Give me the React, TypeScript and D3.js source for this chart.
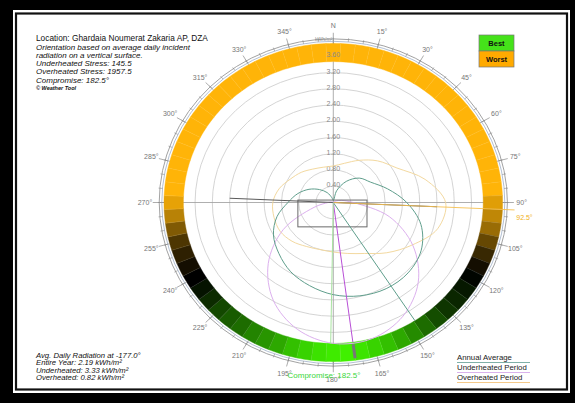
import React from 'react';
import * as d3 from 'd3';

const W = 575;
const H = 403;

// ---- data ----
const curveBearings = [0, 15, 30, 45, 60, 75, 90, 105, 120, 135, 150, 165, 180, 195, 210, 225, 240, 255, 270, 285, 300, 315, 330, 345];
const annualAverage = [0.05, 0.3, 0.6, 0.85, 1.0, 1.3, 1.7, 2.1, 2.35, 2.45, 2.45, 2.38, 2.27, 2.12, 1.97, 1.78, 1.6, 1.35, 1.05, 0.85, 0.65, 0.45, 0.28, 0.12];
const underheatedPeriod = [0, 0, 0, 0.02, 0.08, 0.2, 0.46, 1.34, 2.13, 2.78, 3.23, 3.47, 3.47, 3.23, 2.78, 2.13, 1.34, 0.46, 0.12, 0.05, 0.02, 0, 0, 0];
const overheatedPeriod = [0.9, 1.0, 1.2, 1.45, 1.7, 2.2, 2.6, 2.5, 2.1, 1.75, 1.45, 1.3, 1.22, 1.2, 1.25, 1.35, 1.42, 1.42, 1.4, 1.3, 1.15, 1.05, 0.95, 0.9];

// band score per 5 degree cell: -1 worst (orange) .. 0 black .. +1 best (green)
const bandBearings = d3.range(0, 360, 5);
const bandScores = [
  -1, -1, -1, -1, -1, -1, -1, -1, -1, -1, -1, -1, -1, -1, -1, -1, -1, -1,
  -0.88, -0.75, -0.6, -0.4, -0.22, -0.08, 0.02, 0.1, 0.16, 0.22, 0.32, 0.45,
  0.58, 0.7, 0.8, 0.88, 0.95, 1, 0.98, 0.94, 0.88, 0.8, 0.7, 0.62,
  0.55, 0.45, 0.38, 0.3, 0.18, 0.08, 0, -0.08, -0.18, -0.3, -0.5, -0.72,
  -0.9, -1, -1, -1, -1, -1, -1, -1, -1, -1, -1, -1, -1, -1, -1, -1, -1, -1,
];

const ringValues = [0.4, 0.8, 1.2, 1.6, 2.0, 2.4, 2.8, 3.2, 3.6];
const ringLabels = ['0.40', '0.80', '1.20', '1.60', '2.00', '2.40', '2.80', '3.20', '3.60'];
const compassBearings = d3.range(0, 360, 15);
const compassLabels = ['N', '15°', '30°', '45°', '60°', '75°', '90°', '105°', '120°', '135°', '150°', '165°', '180°', '195°', '210°', '225°', '240°', '255°', '270°', '285°', '300°', '315°', '330°', '345°'];

const bestOrientations = [
  { name: 'annual', bearing: 147, length: 3.47, color: '#5f9e8c' },
  { name: 'underheated', bearing: 172.5, length: 3.47, color: '#b84fd6' },
  { name: 'compromise', bearing: 181, length: 3.47, color: '#a8e3a0' },
];
const worstBearing = 92.5;
const axisBearing = 92.5;
const axisLength = 2.4;
const compromiseMarkBearing = 172.5;
const building = { x0: -0.82, x1: 0.78, y0: -0.06, y1: 0.6 };

const infoLines = [
  'Orientation based on average daily incident',
  'radiation on a vertical surface.',
  'Underheated Stress: 145.5',
  'Overheated Stress: 1957.5',
  'Compromise: 182.5°',
];
const radiationLines = [
  'Avg. Daily Radiation at -177.0°',
  'Entire Year: 2.19 kWh/m²',
  'Underheated: 3.33 kWh/m²',
  'Overheated: 0.82 kWh/m²',
];
const legendItems = [
  { label: 'Annual Average', color: '#7fb0a8' },
  { label: 'Underheated Period', color: '#d9b2ec' },
  { label: 'Overheated Period', color: '#f4c98a' },
];

// ---- geometry ----
const cx = 333.3;
const cy = 202.5;
const xS = d3.scaleLinear().domain([0, 1]).range([0, 43.2]);
const yS = d3.scaleLinear().domain([0, 1]).range([0, 40.6]);
const rad = (b: number) => (b * Math.PI) / 180;
const px = (b: number, r: number) => cx + xS(r) * Math.sin(rad(b));
const py = (b: number, r: number) => cy - yS(r) * Math.cos(rad(b));

const BAND_IN = 3.47;
const BAND_OUT = 3.92;
const LABEL_R = 4.36;

const orange = d3.rgb(255, 180, 8);
const green = d3.rgb(64, 240, 0);
const bandColor = (v: number) =>
  v < 0 ? d3.interpolateRgb('#000000', orange.toString())(-v) : d3.interpolateRgb('#000000', green.toString())(v);

const lineGen = d3.line<[number, number]>();
const closedCurve = d3.line<[number, number]>().curve(d3.curveCatmullRomClosed.alpha(0.5));

function cellPath(b: number) {
  const pts: [number, number][] = [];
  const steps = 4;
  for (let i = 0; i <= steps; i++) {
    const a = b - 2.5 + (5 * i) / steps;
    pts.push([px(a, BAND_OUT), py(a, BAND_OUT)]);
  }
  for (let i = steps; i >= 0; i--) {
    const a = b - 2.5 + (5 * i) / steps;
    pts.push([px(a, BAND_IN), py(a, BAND_IN)]);
  }
  return lineGen(pts) + 'Z';
}

function curvePath(values: number[]) {
  const pts = values.map((v, i) => [px(curveBearings[i], v), py(curveBearings[i], v)] as [number, number]);
  return closedCurve(pts) || '';
}

export default function App() {
  const font = "'Liberation Sans', Arial, sans-serif";
  const bx0 = cx + xS(building.x0);
  const bx1 = cx + xS(building.x1);
  const by0 = cy + yS(building.y0);
  const by1 = cy + yS(building.y1);
  return (
    <svg width={W} height={H} style={{ position: 'absolute', left: 0, top: 0 }} fontFamily={font}>
      {/* frame */}
      <rect x={0} y={0} width={W} height={H} fill="#000" />
      <rect x={13} y={10} width={557} height={383} fill="#fff" />
      <rect x={16} y={13.5} width={551} height={376} fill="#fff" stroke="#111" strokeWidth={2.2} />

      {/* rings */}
      {ringValues.map((v) => (
        <ellipse key={v} cx={cx} cy={cy} rx={xS(v)} ry={yS(v)} fill="none" stroke="#cfcfcf" strokeWidth={0.9} />
      ))}
      {/* axes */}
      <line x1={px(0, 3.96)} y1={py(0, 3.96)} x2={px(180, 3.96)} y2={py(180, 3.96)} stroke="#9a9a9a" strokeWidth={0.8} />
      <line x1={px(270, 3.96)} y1={py(270, 3.96)} x2={px(90, 3.96)} y2={py(90, 3.96)} stroke="#9a9a9a" strokeWidth={0.8} />

      {/* band */}
      {bandBearings.map((b, i) => (
        <path key={b} d={cellPath(b)} fill={bandColor(bandScores[i])} stroke={bandColor(bandScores[i])} strokeWidth={0.4} />
      ))}
      {bandBearings.map((b) => (
        <line key={'s' + b} x1={px(b - 2.5, BAND_IN)} y1={py(b - 2.5, BAND_IN)} x2={px(b - 2.5, BAND_OUT)} y2={py(b - 2.5, BAND_OUT)} stroke="rgba(255,255,255,0.12)" strokeWidth={0.6} />
      ))}

      {/* outer circles and ticks */}
      <ellipse cx={cx} cy={cy} rx={xS(3.97)} ry={yS(3.97)} fill="none" stroke="#9fb0c8" strokeWidth={0.8} />
      <ellipse cx={cx} cy={cy} rx={xS(4.03)} ry={yS(4.03)} fill="none" stroke="#8a8a8a" strokeWidth={0.8} />
      {bandBearings.map((b) => (
        <line key={'m' + b} x1={px(b, 3.97)} y1={py(b, 3.97)} x2={px(b, 4.06)} y2={py(b, 4.06)} stroke="#8a8a8a" strokeWidth={0.6} />
      ))}
      {compassBearings.map((b) => (
        <line key={'t' + b} x1={px(b, 3.92)} y1={py(b, 3.92)} x2={px(b, 4.18)} y2={py(b, 4.18)} stroke="#8a8a8a" strokeWidth={0.7} />
      ))}
      {compassBearings.map((b, i) => (
        <text key={'l' + b} x={px(b, LABEL_R)} y={py(b, LABEL_R)} dy="0.35em" textAnchor="middle" fontSize={7} fill="#777">
          {compassLabels[i]}
        </text>
      ))}

      {/* ring labels */}
      {ringValues.map((v, i) => (
        <text key={'r' + v} x={cx} y={py(0, v) + 1} textAnchor="middle" fontSize={7} fill="#8a8a8a">
          {ringLabels[i]}
        </text>
      ))}
      <text x={cx - 1} y={py(0, 3.98)} textAnchor="end" fontSize={5} fill="#8a8a8a">kWh/m²</text>

      {/* curves */}
      <path d={curvePath(overheatedPeriod)} fill="none" stroke="#f3d9a0" strokeWidth={1} />
      <path d={curvePath(underheatedPeriod)} fill="none" stroke="#dcb0ee" strokeWidth={1} />
      <path d={curvePath(annualAverage)} fill="none" stroke="#5f9e8c" strokeWidth={1} />

      {/* building */}
      <rect x={bx0} y={by0} width={bx1 - bx0} height={by1 - by0} fill="none" stroke="#6a6a6a" strokeWidth={1} />

      {/* orientation lines */}
      <line x1={px(axisBearing + 180, axisLength)} y1={py(axisBearing + 180, axisLength)} x2={px(axisBearing, axisLength)} y2={py(axisBearing, axisLength)} stroke="#5a5a5a" strokeWidth={1} />
      <line x1={cx} y1={cy} x2={px(worstBearing, 4.2)} y2={py(worstBearing, 4.2)} stroke="#f5bf50" strokeWidth={0.9} />
      {bestOrientations.map((o) => (
        <line key={o.name} x1={cx} y1={cy} x2={px(o.bearing, o.length)} y2={py(o.bearing, o.length)} stroke={o.color} strokeWidth={1} />
      ))}
      <line x1={px(compromiseMarkBearing, BAND_IN + 0.05)} y1={py(compromiseMarkBearing, BAND_IN + 0.05)} x2={px(compromiseMarkBearing, BAND_OUT - 0.05)} y2={py(compromiseMarkBearing, BAND_OUT - 0.05)} stroke="#777" strokeWidth={3} />
      <text x={px(worstBearing, LABEL_R) + 3} y={py(worstBearing, LABEL_R) + 7} dy="0.35em" textAnchor="middle" fontSize={7} fill="#f0b020">92.5°</text>
      <text x={324} y={378} textAnchor="middle" fontSize={8} fill="#3ad63a">Compromise: 182.5°</text>

      {/* info text */}
      <text x={36} y={41} fontSize={8.3} fill="#111">Location: Ghardaia Noumerat Zakaria AP, DZA</text>
      {infoLines.map((t, i) => (
        <text key={t} x={36} y={49.5 + i * 8.3} fontSize={8} fontStyle="italic" fill="#111">{t}</text>
      ))}
      <text x={36} y={90} fontSize={5.5} fontStyle="italic" fontWeight="bold" fill="#111">© Weather Tool</text>

      {radiationLines.map((t, i) => (
        <text key={t} x={36} y={357.5 + i * 7.6} fontSize={7.7} fontStyle="italic" fill="#111">{t}</text>
      ))}

      {/* legend */}
      {legendItems.map((it, i) => (
        <g key={it.label}>
          <text x={457} y={360 + i * 10} fontSize={7.8} fill="#222">{it.label}</text>
          <line x1={457} x2={530} y1={362.5 + i * 10} y2={362.5 + i * 10} stroke={it.color} strokeWidth={1} />
        </g>
      ))}

      {/* best / worst */}
      <rect x={479} y={35} width={35} height={16} fill="#45e21a" stroke="#777" strokeWidth={0.7} />
      <rect x={479} y={51} width={35} height={16} fill="#ffaa00" stroke="#777" strokeWidth={0.7} />
      <text x={496.5} y={46} textAnchor="middle" fontSize={7.5} fontWeight="bold" fill="#111">Best</text>
      <text x={496.5} y={62} textAnchor="middle" fontSize={7.5} fontWeight="bold" fill="#111">Worst</text>
    </svg>
  );
}
